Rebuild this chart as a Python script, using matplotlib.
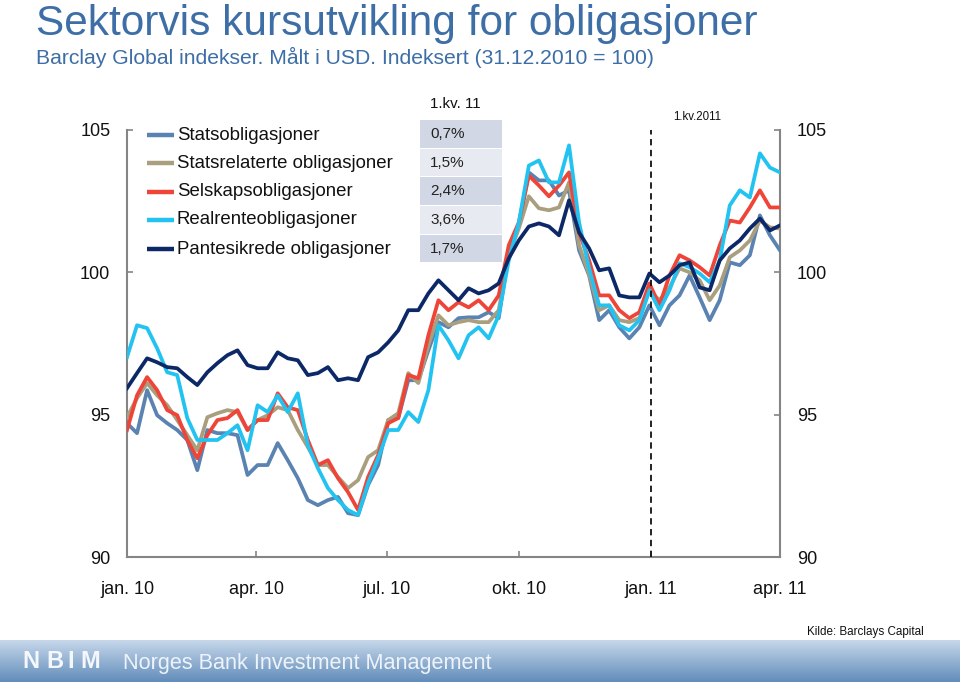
import numpy as np
import pandas as pd
import matplotlib
matplotlib.use("Agg")
import matplotlib.pyplot as plt
from matplotlib.patches import Rectangle
from matplotlib.lines import Line2D

plt.rcParams['font.family'] = ['Liberation Sans', 'DejaVu Sans']

# ---------------- data (weekly, index 31.12.2010 = 100) ----------------
dates = pd.date_range("2010-01-01", periods=66, freq="7D")

stats = [94.70, 94.35, 95.86, 94.98, 94.70, 94.46, 94.11, 93.05, 94.46, 94.35,
         94.35, 94.28, 92.88, 93.23, 93.23, 94.00, 93.40, 92.77, 92.00, 91.82,
         92.00, 92.11, 91.54, 91.47, 92.53, 93.23, 94.81, 94.88, 96.21, 96.21,
         97.26, 98.25, 98.07, 98.39, 98.42, 98.42, 98.60, 98.39, 100.70, 101.65,
         103.51, 103.23, 103.23, 102.70, 102.88, 100.77, 99.89, 98.32, 98.67, 98.07,
         97.68, 98.07, 98.84, 98.14, 98.84, 99.19, 99.89, 99.12, 98.32, 99.02,
         100.35, 100.25, 100.60, 102.00, 101.30, 100.77]

statsrel = [94.91, 95.58, 96.11, 95.68, 95.33, 94.81, 94.28, 93.75, 94.91, 95.05,
            95.16, 95.09, 94.46, 94.81, 94.98, 95.26, 95.16, 94.46, 93.86, 93.23,
            93.23, 92.81, 92.42, 92.70, 93.51, 93.75, 94.81, 95.05, 96.46, 96.11,
            97.44, 98.49, 98.14, 98.25, 98.32, 98.25, 98.25, 98.67, 100.60, 101.54,
            102.67, 102.25, 102.18, 102.28, 103.16, 100.95, 99.93, 98.67, 98.84, 98.32,
            98.25, 98.39, 99.37, 99.02, 99.47, 100.14, 100.00, 99.72, 99.02, 99.54,
            100.53, 100.77, 101.12, 101.82, 101.58, 101.54]

selskap = [94.46, 95.68, 96.32, 95.86, 95.16, 94.98, 94.11, 93.47, 94.28, 94.81,
           94.88, 95.16, 94.46, 94.81, 94.81, 95.75, 95.26, 95.16, 94.11, 93.23,
           93.40, 92.77, 92.28, 91.65, 92.81, 93.58, 94.70, 94.88, 96.39, 96.28,
           97.79, 99.02, 98.67, 98.95, 98.77, 99.02, 98.67, 99.19, 100.95, 101.75,
           103.40, 103.05, 102.67, 103.05, 103.51, 101.40, 100.42, 99.19, 99.19, 98.67,
           98.39, 98.60, 99.61, 98.84, 99.89, 100.60, 100.42, 100.18, 99.89, 100.95,
           101.82, 101.75, 102.28, 102.88, 102.28, 102.28]

realrente = [97.02, 98.14, 98.04, 97.33, 96.49, 96.39, 94.88, 94.11, 94.11, 94.11,
             94.35, 94.63, 93.75, 95.33, 95.09, 95.68, 95.09, 95.75, 93.93, 93.12,
             92.42, 92.00, 91.65, 91.47, 92.60, 93.47, 94.46, 94.46, 95.09, 94.74,
             95.86, 98.14, 97.61, 96.98, 97.79, 98.07, 97.68, 98.49, 100.42, 101.75,
             103.75, 103.93, 103.16, 103.16, 104.46, 101.75, 100.14, 98.84, 98.84, 98.14,
             97.96, 98.32, 99.37, 98.67, 99.37, 100.32, 100.18, 99.96, 99.65, 100.42,
             102.35, 102.88, 102.63, 104.18, 103.68, 103.51]

pantesikrede = [95.93, 96.46, 96.98, 96.84, 96.67, 96.63, 96.32, 96.04, 96.49, 96.81,
                97.09, 97.26, 96.74, 96.63, 96.63, 97.19, 96.98, 96.91, 96.39, 96.46,
                96.67, 96.21, 96.28, 96.21, 97.02, 97.19, 97.54, 97.96, 98.67, 98.67,
                99.26, 99.72, 99.37, 99.02, 99.44, 99.26, 99.37, 99.61, 100.49, 101.12,
                101.61, 101.72, 101.61, 101.30, 102.53, 101.40, 100.84, 100.07, 100.14, 99.19,
                99.12, 99.12, 99.96, 99.65, 99.89, 100.25, 100.35, 99.47, 99.37, 100.42,
                100.84, 101.12, 101.54, 101.89, 101.47, 101.65]

series_names = ["Statsobligasjoner", "Statsrelaterte obligasjoner",
                "Selskapsobligasjoner", "Realrenteobligasjoner",
                "Pantesikrede obligasjoner"]
q1_returns = ["0,7%", "1,5%", "2,4%", "3,6%", "1,7%"]
tick_dates = pd.to_datetime(["2010-01-01", "2010-04-01", "2010-07-01",
                             "2010-10-01", "2011-01-01", "2011-04-01"])
tick_labels = ["jan. 10", "apr. 10", "jul. 10", "okt. 10", "jan. 11", "apr. 11"]
yticks = [90, 95, 100, 105]

colors = ["#5a83b1", "#a99f7e", "#ef4438", "#22c3f1", "#0c2867"]
all_series = [stats, statsrel, selskap, realrente, pantesikrede]

# ---------------- figure ----------------
W, H = 960, 682
fig = plt.figure(figsize=(9.6, 6.82), dpi=100)
fig.patch.set_facecolor("white")

def fx(px):
    return px / W

def fy(py):
    return 1 - py / H

ax = fig.add_axes([fx(127), fy(557), fx(780) - fx(127), fy(130) - fy(557)])
for s, c in zip(all_series, colors):
    ax.plot(dates, s, color=c, lw=2.7, solid_joinstyle="round", zorder=3)

ax.set_ylim(90, 105)
ax.set_xlim(pd.Timestamp("2010-01-01"), pd.Timestamp("2011-04-01"))
ax.set_yticks(yticks)
ax.set_yticklabels([str(v) for v in yticks])
ax.set_xticks(tick_dates)
ax.set_xticklabels(tick_labels)

for side in ["left", "right", "bottom"]:
    ax.spines[side].set_color("#858585")
    ax.spines[side].set_linewidth(1.5)
ax.spines["top"].set_visible(False)
ax.tick_params(axis="y", which="both", direction="in", length=4, width=1.2,
               color="#858585", labelsize=13, pad=12,
               left=True, right=True, labelleft=True, labelright=True)
ax.tick_params(axis="x", direction="in", length=4, width=1.2, color="#858585",
               labelsize=13, pad=17)
for lab in ax.get_yticklabels() + ax.get_xticklabels():
    lab.set_color("#111111")

ax.axvline(pd.Timestamp("2011-01-01"), color="#111111", lw=1.3,
           ls=(0, (3.5, 2.5)), zorder=4)
ax.set_facecolor("none")

# ---------------- title ----------------
fig.text(fx(36), fy(35), "Sektorvis kursutvikling for obligasjoner",
         fontsize=30.5, color="#3d6ea6", va="baseline", ha="left")
fig.text(fx(36), fy(64), "Barclay Global indekser. Målt i USD. Indeksert (31.12.2010 = 100)",
         fontsize=15.2, color="#3d6ea6", va="baseline", ha="left")

# ---------------- legend ----------------
row_y = [135, 163, 192, 220, 249]
for name, c, yy in zip(series_names, colors, row_y):
    fig.add_artist(Line2D([fx(147), fx(174)], [fy(yy), fy(yy)],
                          color=c, lw=3.2, solid_capstyle="butt"))
    fig.text(fx(177), fy(yy), name, fontsize=13.4, color="#111111",
             va="center", ha="left")

# ---------------- Q1 return table ----------------
fig.text(fx(430), fy(104), "1.kv. 11", fontsize=10.9, color="#111111",
         va="center", ha="left")
cell_fc = ["#d1d7e4", "#e7eaf1", "#d1d7e4", "#e7eaf1", "#d1d7e4"]
for i, (txt, fc) in enumerate(zip(q1_returns, cell_fc)):
    top = 120 + i * 28.7
    fig.add_artist(Rectangle((fx(420), fy(top + 27.5)), fx(502) - fx(420),
                             fy(top) - fy(top + 27.5),
                             transform=fig.transFigure, facecolor=fc,
                             edgecolor="none", zorder=1))
    fig.text(fx(430), fy(top + 14), txt, fontsize=11, color="#222222",
             va="center", ha="left", zorder=2)

fig.text(fx(697), fy(117), "1.kv.2011", fontsize=8.3, color="#111111",
         va="center", ha="center")

# ---------------- source and footer ----------------
fig.text(fx(924), fy(632), "Kilde: Barclays Capital", fontsize=8.4,
         color="#111111", va="center", ha="right")

fax = fig.add_axes([0, 0, 1, 42 / H])
grad = np.linspace(0, 1, 64).reshape(-1, 1)
top_c = np.array([0xc6, 0xd7, 0xea]) / 255
bot_c = np.array([0x62, 0x8d, 0xbb]) / 255
img = top_c[None, None, :] * (1 - grad[..., None]) + bot_c[None, None, :] * grad[..., None]
fax.imshow(img, aspect="auto", extent=[0, 1, 0, 1])
fax.set_axis_off()
for letter, lx in zip("NBIM", [22, 46, 67, 80]):
    fig.text(fx(lx), fy(661), letter, fontsize=17, fontweight="bold",
             color="#f4f7fb", va="center", ha="left")
fig.text(fx(123), fy(663), "Norges Bank Investment Management", fontsize=15.6,
         color="#eef3f9", va="center", ha="left")

fig.savefig("out.png", dpi=100)
